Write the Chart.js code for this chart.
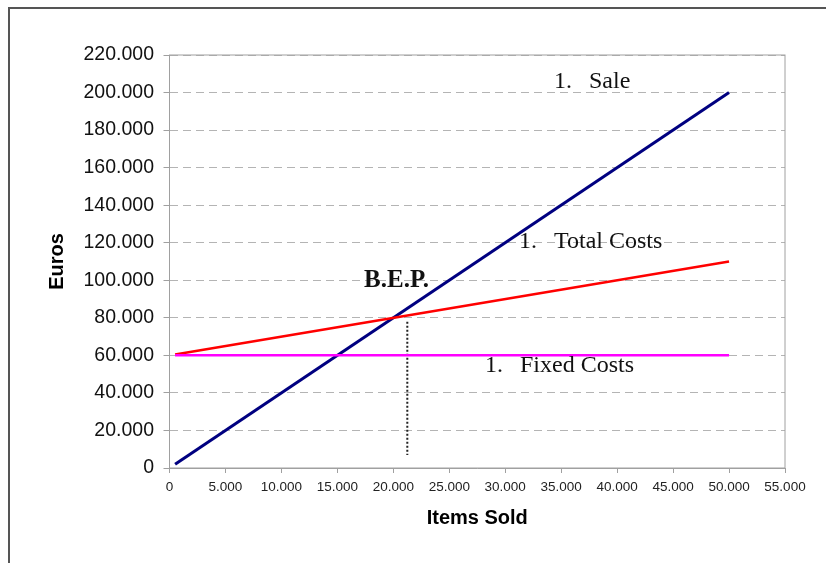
<!DOCTYPE html>
<html>
<head>
<meta charset="utf-8">
<script src="https://cdn.jsdelivr.net/npm/chart.js@4"></script>
<style>
  html, body { margin: 0; padding: 0; background: #fff; }
  #wrap { position: relative; width: 826px; height: 563px; overflow: hidden; }
  #frame {
    position: absolute; left: 8px; top: 7px; width: 900px; height: 600px;
    border-top: 2px solid #555; border-left: 2px solid #555; pointer-events: none;
  }
</style>
</head>
<body>
<div id="wrap">
  <canvas id="chart"></canvas>
  <div id="frame"></div>
</div>
<script>
// items sold (x) and euros (y)
const items = [500, 50000];
const sale = [2000, 200000];
const totalCosts = [60500, 110000];
const fixedCosts = [60000, 60000];

// break-even marker (dotted drop line)
const bepItems = [21250, 21250];
const bepEuros = [77900, 6900];

// axis ranges
const xMax = 55000, xStep = 5000;
const yMax = 220000, yStep = 20000;

// text labels placed in data units
const notes = [
  { num: "1.", text: "Sale", x: 34360, y: 205600 },
  { num: "1.", text: "Total Costs", x: 31230, y: 120400 },
  { num: "1.", text: "Fixed Costs", x: 28190, y: 54300 },
];
const bepLabel = { text: "B.E.P.", x: 20290, y: 99900 };

const toPoints = (xs, ys) => xs.map((x, i) => ({ x: x, y: ys[i] }));
const fmt = (v) => String(v).replace(/\B(?=(\d{3})+(?!\d))/g, ".");

const serif = '"Liberation Serif", "Times New Roman", serif';
const sans = '"Liberation Sans", Arial, sans-serif';

// frame around the plot area and text labels
const extras = {
  id: "extras",
  afterDatasetsDraw(chart) {
    const { ctx, chartArea, scales } = chart;
    ctx.save();
    ctx.strokeStyle = "#a0a0a0";
    ctx.lineWidth = 1;
    ctx.strokeRect(chartArea.left, chartArea.top, chartArea.right - chartArea.left, chartArea.bottom - chartArea.top);

    ctx.fillStyle = "#111";
    ctx.textBaseline = "middle";
    ctx.textAlign = "left";
    ctx.font = "24px " + serif;
    notes.forEach((n) => {
      const px = scales.x.getPixelForValue(n.x);
      const py = scales.y.getPixelForValue(n.y);
      ctx.fillText(n.num, px, py);
      ctx.fillText(n.text, px + 35, py);
    });
    ctx.font = "bold 25px " + serif;
    ctx.textAlign = "center";
    ctx.fillText(bepLabel.text, scales.x.getPixelForValue(bepLabel.x), scales.y.getPixelForValue(bepLabel.y));
    ctx.restore();
  },
};

new Chart(document.getElementById("chart"), {
  type: "scatter",
  data: {
    datasets: [
      {
        label: "Fixed Costs",
        data: toPoints(items, fixedCosts),
        showLine: true,
        borderColor: "#ff00ff",
        borderWidth: 2.5,
        pointRadius: 0,
      },
      {
        label: "Total Costs",
        data: toPoints(items, totalCosts),
        showLine: true,
        borderColor: "#ff0000",
        borderWidth: 2.5,
        pointRadius: 0,
      },
      {
        label: "Sale",
        data: toPoints(items, sale),
        showLine: true,
        borderColor: "#000080",
        borderWidth: 3,
        pointRadius: 0,
      },
      {
        label: "B.E.P.",
        data: toPoints(bepItems, bepEuros),
        showLine: true,
        borderColor: "#222",
        borderWidth: 2,
        borderDash: [2, 2],
        pointRadius: 0,
      },
    ],
  },
  options: {
    responsive: true,
    maintainAspectRatio: false,
    animation: false,
    layout: { padding: { left: 0, top: 55, right: 41, bottom: 0 } },
    plugins: {
      legend: { display: false },
      tooltip: { enabled: false },
    },
    scales: {
      x: {
        type: "linear",
        min: 0,
        max: xMax,
        afterFit: (s) => { s.height = 95; },
        ticks: {
          stepSize: xStep,
          color: "#222",
          font: { family: sans, size: 13.5 },
          padding: 6,
          maxRotation: 0,
          callback: (v) => fmt(v),
        },
        grid: { drawOnChartArea: false, drawTicks: true, tickLength: 5, color: "#a0a0a0" },
        border: { color: "#a0a0a0", width: 1 },
        title: {
          display: true,
          text: "Items Sold",
          color: "#000",
          font: { family: sans, size: 20, weight: "bold" },
          padding: { top: 0, bottom: 33 },
        },
      },
      y: {
        min: 0,
        max: yMax,
        afterFit: (s) => { s.width = 169.5; },
        ticks: {
          stepSize: yStep,
          color: "#111",
          font: { family: sans, size: 19.5 },
          padding: 9.5,
          callback: (v) => fmt(v),
        },
        grid: { color: "#b4b4b4", lineWidth: 1, tickLength: 6, tickColor: "#a0a0a0" },
        border: { color: "#a0a0a0", width: 1, dash: [8, 5] },
        title: {
          display: true,
          text: "Euros",
          color: "#000",
          font: { family: sans, size: 20, weight: "bold" },
          padding: { top: 45, bottom: 0 },
        },
      },
    },
  },
  plugins: [extras],
});
</script>
</body>
</html>
